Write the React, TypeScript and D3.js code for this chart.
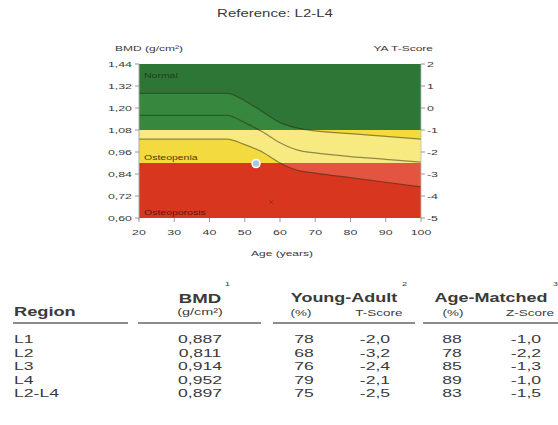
import React from "react";
import * as d3 from "d3";

// reference curve (age-matched mean +/- 1 SD)
const ages = [20, 45, 50, 55, 60, 65, 70, 80, 90, 100];
const upperCurve = [1.28, 1.28, 1.24, 1.18, 1.12, 1.09, 1.075, 1.06, 1.045, 1.03];
const meanCurve = [1.16, 1.16, 1.12, 1.07, 1.01, 0.97, 0.955, 0.935, 0.92, 0.905];
const lowerCurve = [1.03, 1.03, 1.0, 0.96, 0.9, 0.86, 0.845, 0.82, 0.795, 0.77];

const bmdTicks = [0.6, 0.72, 0.84, 0.96, 1.08, 1.2, 1.32, 1.44];
const tTicks = [2, 1, 0, -1, -2, -3, -4, -5];
const ageTicks = [20, 30, 40, 50, 60, 70, 80, 90, 100];

const patientAge = 53.2;
const patientBmd = 0.897;

// table
const regions = ["L1", "L2", "L3", "L4", "L2-L4"];
const bmdValues = [0.887, 0.811, 0.914, 0.952, 0.897];
const yaPercent = [78, 68, 76, 79, 75];
const tScores = [-2.0, -3.2, -2.4, -2.1, -2.5];
const amPercent = [88, 78, 85, 89, 83];
const zScores = [-1.0, -2.2, -1.3, -1.0, -1.5];

const FONT = "'Liberation Sans', Arial, sans-serif";
const comma = (f: string) => (v: number) => d3.format(f)(v).replace(".", ",").replace("−", "-");

// the source picture is stretched sideways, so every text is too
const Txt = ({ x, y, size = 10, anchor = "start", weight = 400, fill = "#3a3a3a", sx = 1.5, children }: any) => (
  <text
    transform={`translate(${x},${y}) scale(${sx},1)`}
    fontSize={size}
    fontWeight={weight}
    textAnchor={anchor}
    fill={fill}
    fontFamily={FONT}
  >
    {children}
  </text>
);

export default function App() {
  const x = d3.scaleLinear().domain([20, 100]).range([139, 421]);
  const y = d3.scaleLinear().domain([0.6, 1.44]).range([218, 64]);
  const yT = d3.scaleLinear().domain([-5, 2]).range([218, 64]);

  const pts = ages.map((a, i) => ({ age: a, hi: upperCurve[i], mid: meanCurve[i], lo: lowerCurve[i] }));
  const band = d3
    .area<any>()
    .x((d) => x(d.age))
    .y0((d) => y(d.lo))
    .y1((d) => y(d.hi))
    .curve(d3.curveMonotoneX)(pts) as string;
  const line = (key: string) =>
    d3
      .line<any>()
      .x((d) => x(d.age))
      .y((d) => y(d[key]))
      .curve(d3.curveMonotoneX)(pts) as string;

  const [x0, x1] = x.range();
  const zones = [
    { id: "zn", top: 1.44, bottom: 1.08, base: "#2e7636", light: "#37873f" },
    { id: "zo", top: 1.08, bottom: 0.9, base: "#f3da3f", light: "#f7ea80" },
    { id: "zp", top: 0.9, bottom: 0.6, base: "#d8361f", light: "#e35540" },
  ];

  const fmtBmd = comma(".3f");
  const fmtScore = comma(".1f");
  const rowY = [343, 356.5, 370, 383.5, 397];

  return (
    <svg width={558} height={425} style={{ position: "absolute", left: 0, top: 0, background: "#fff" }}>
      <defs>
        {zones.map((z) => (
          <clipPath id={z.id} key={z.id}>
            <rect x={x0} y={y(z.top)} width={x1 - x0} height={y(z.bottom) - y(z.top)} />
          </clipPath>
        ))}
      </defs>

      <Txt x={275} y={17} size={10} anchor="middle">Reference: L2-L4</Txt>
      <Txt x={115} y={51} size={8}>BMD (g/cm²)</Txt>
      <Txt x={433} y={51} size={8} anchor="end">YA T-Score</Txt>

      {zones.map((z) => (
        <g key={z.id}>
          <rect x={x0} y={y(z.top)} width={x1 - x0} height={y(z.bottom) - y(z.top)} fill={z.base} />
          <path d={band} fill={z.light} clipPath={`url(#${z.id})`} />
        </g>
      ))}
      {["hi", "mid", "lo"].map((k) => (
        <path key={k} d={line(k)} fill="none" stroke="#2a2a10" strokeOpacity={0.5} strokeWidth={1.2} />
      ))}

      <Txt x={144} y={78} size={7} fill="#1d3d1d">Normal</Txt>
      <Txt x={144} y={160} size={7} fill="#4a3a10">Osteopenia</Txt>
      <Txt x={144} y={215} size={7} fill="#5a1a10">Osteoporosis</Txt>

      <line x1={x0} x2={x0} y1={64} y2={220} stroke="#aaa" strokeWidth={1} />
      <line x1={x1} x2={x1} y1={64} y2={218} stroke="#bbb" strokeWidth={0.8} />
      {bmdTicks.map((t) => (
        <g key={t}>
          <line x1={x0 - 4} x2={x0} y1={y(t)} y2={y(t)} stroke="#999" />
          <Txt x={132} y={y(t) + 3} size={8} anchor="end" sx={1.55}>{comma(".2f")(t)}</Txt>
        </g>
      ))}
      {tTicks.map((t) => (
        <g key={t}>
          <line x1={x1} x2={x1 + 4} y1={yT(t)} y2={yT(t)} stroke="#999" />
          <Txt x={427} y={yT(t) + 3} size={8} sx={1.55}>{t}</Txt>
        </g>
      ))}
      {ageTicks.map((a) => (
        <g key={a}>
          <line x1={x(a)} x2={x(a)} y1={218} y2={222} stroke="#999" />
          <Txt x={x(a)} y={235} size={8} anchor="middle" sx={1.55}>{a}</Txt>
        </g>
      ))}
      <Txt x={282} y={256} size={8} anchor="middle">Age (years)</Txt>

      <circle cx={x(patientAge)} cy={y(patientBmd)} r={4} fill="#a6c8e4" stroke="#fff" strokeWidth={1.5} />
      <path
        d={`M${x(57.5) - 2},${y(0.687) - 2}l4,4m0,-4l-4,4`}
        stroke="#7a2a20"
        strokeWidth={1}
        opacity={0.6}
      />

      {/* table */}
      <Txt x={225} y={286} size={6}>1</Txt>
      <Txt x={402} y={286} size={6}>2</Txt>
      <Txt x={553} y={286} size={6}>3</Txt>
      <Txt x={200} y={303} size={12} weight={700} anchor="middle" sx={1.55}>BMD</Txt>
      <Txt x={344} y={302} size={12} weight={700} anchor="middle">Young-Adult</Txt>
      <Txt x={491} y={302} size={12} weight={700} anchor="middle">Age-Matched</Txt>
      <Txt x={14} y={316} size={12} weight={700} sx={1.52}>Region</Txt>
      <Txt x={200} y={315} size={9} anchor="middle" sx={1.6}>(g/cm²)</Txt>
      <Txt x={301} y={316} size={9} anchor="middle">(%)</Txt>
      <Txt x={379} y={316} size={9} anchor="middle">T-Score</Txt>
      <Txt x={453} y={316} size={9} anchor="middle">(%)</Txt>
      <Txt x={530} y={316} size={9} anchor="middle">Z-Score</Txt>
      {[
        [13, 128],
        [138, 261],
        [273, 415],
        [423, 558],
      ].map(([a, b]) => (
        <line key={a} x1={a} x2={b} y1={323} y2={323} stroke="#666" strokeWidth={1.5} />
      ))}
      {regions.map((r, i) => (
        <g key={r}>
          <Txt x={14} y={rowY[i]} size={11} sx={1.6}>{r}</Txt>
          <Txt x={200} y={rowY[i]} size={11} anchor="middle" sx={1.6}>{fmtBmd(bmdValues[i])}</Txt>
          <Txt x={304} y={rowY[i]} size={11} anchor="middle" sx={1.6}>{yaPercent[i]}</Txt>
          <Txt x={375} y={rowY[i]} size={11} anchor="middle" sx={1.6}>{fmtScore(tScores[i])}</Txt>
          <Txt x={452} y={rowY[i]} size={11} anchor="middle" sx={1.6}>{amPercent[i]}</Txt>
          <Txt x={526} y={rowY[i]} size={11} anchor="middle" sx={1.6}>{fmtScore(zScores[i])}</Txt>
        </g>
      ))}
    </svg>
  );
}
